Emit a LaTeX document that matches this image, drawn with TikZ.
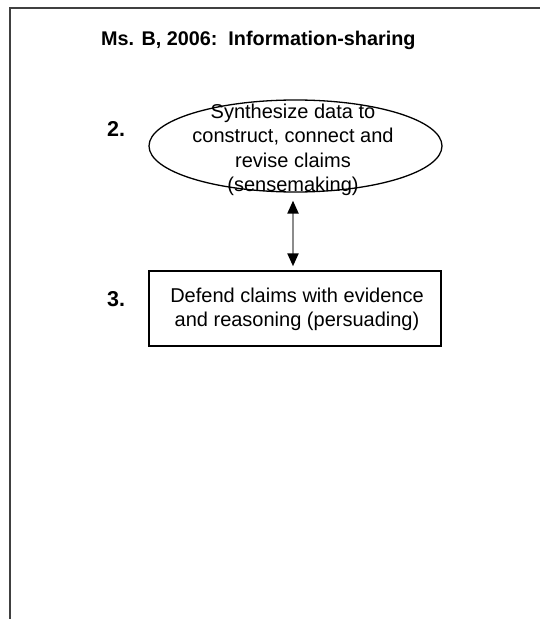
\documentclass[tikz,border=0pt]{standalone}
\usepackage{fontspec}
\setmainfont{Liberation Sans}
\usetikzlibrary{shapes.geometric,arrows.meta}
\begin{document}
\begin{tikzpicture}[x=1bp,y=-1bp,
  frameline/.style={draw=black!75,line width=2bp},
  bodytext/.style={align=center,inner sep=0pt,font=\fontsize{20bp}{24.5bp}\selectfont},
  steplabel/.style={inner sep=0pt,font=\fontsize{21.5bp}{24bp}\selectfont\bfseries},
  link/.style={draw=black!45,line width=2.2bp,
    {Triangle[length=13bp,width=11bp,color=black]}-{Triangle[length=13bp,width=11bp,color=black]}}]
  \useasboundingbox (0,0) rectangle (540,619);
  \fill[white] (0,0) rectangle (540,619);
  % page frame
  \draw[frameline] (541,8) -- (10,8) -- (10,620);
  % heading
  \node[anchor=base west,inner sep=0pt,font=\fontsize{19.8bp}{24bp}\selectfont\bfseries]
    (title) at (101,46) {Ms. B, 2006:\ \ Information-sharing};
  % step 2
  \node[ellipse,draw,line width=1.3bp,minimum width=293bp,minimum height=92bp,inner sep=0pt]
    (sense) at (295.5,146) {};
  \node[bodytext] (sensetext) at (293,150)
    {Synthesize data to\\construct, connect and\\revise claims\\(sensemaking)};
  \node[steplabel,anchor=base west] (two) at (107,137) {2.};
  % step 3
  \node[draw,line width=1.4bp,minimum width=292bp,minimum height=75bp,inner sep=0pt]
    (persuade) at (295,308.5) {};
  \node[bodytext] (persuadetext) at (297,309.5)
    {Defend claims with evidence\\and reasoning (persuading)};
  \node[steplabel,anchor=base west] (three) at (107,306) {3.};
  % two-way link between the steps
  \draw[link,shorten <=8bp,shorten >=4bp] (sense.south -| 293,0) -- (persuade.north -| 293,0);
\end{tikzpicture}
\end{document}
